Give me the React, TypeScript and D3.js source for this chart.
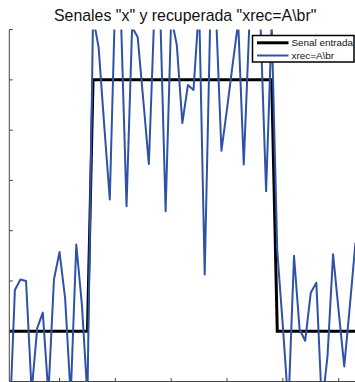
import React from "react";
import * as d3 from "d3";

const samples: number[] = Array.from({ length: 64 }, (_, i) => i + 1);

const signal: number[] = [
  0, 0, 0, 0, 0, 0, 0, 0, 0, 0, 0, 0, 0, 0, 0,
  1, 1, 1, 1, 1, 1, 1, 1, 1, 1, 1, 1, 1, 1, 1, 1, 1, 1, 1, 1, 1, 1, 1, 1, 1, 1, 1, 1, 1, 1, 1, 1, 1,
  0, 0, 0, 0, 0, 0, 0, 0, 0, 0, 0, 0, 0, 0, 0, 0,
];

const xrec: number[] = [
  -0.4, 0.164, 0.206, 0.2, -0.24, 0.012, 0.074, -0.25, 0.206, 0.315,
  0.131, -0.26, 0.345, 0.107, -0.26, 1.25, 1.13, 0.82, 0.524, 1.35,
  1.25, 0.497, 1.21, 1.17, 0.92, 0.665, 1.28, 1.3, 0.477, 1.25,
  1.14, 0.828, 0.98, 0.96, 1.3, 0.226, 1.25, 1.28, 0.718, 0.885,
  1.06, 1.23, 0.663, 1.22, 1.3, 1.22, 0.557, 1.22, 0.32, 0.02,
  -0.3, 0.3, 0.008, -0.038, 0.153, 0.193, -0.3, -0.1, 0.306, 0.08,
  -0.14, 0.1, 0.35, 0.2,
];

const xTicks: number[] = [10, 20, 30, 40, 50, 60];
const yTicks: number[] = [-0.2, 0, 0.2, 0.4, 0.6, 0.8, 1, 1.2];

const titleText = 'Senales "x" y recuperada "xrec=A\\br"';
const legendLabels: string[] = ["Senal entrada", "xrec=A\\br"];

const W = 355;
const H = 382;

export default function App() {
  const x = d3.scaleLinear().domain([1, 64]).range([9.3, 361]);
  const y = d3.scaleLinear().domain([-0.2, 1.2]).range([381.5, 29.6]);

  const line = d3
    .line<number>()
    .x((_, i) => x(samples[i]))
    .y((d) => y(d));

  const blue = "#2f52a8";
  const font = "'Liberation Sans', Arial, Helvetica, sans-serif";

  const [x0, x1] = x.range();
  const [y0, y1] = y.range();

  const lgX = 252.5;
  const lgY = 35.5;
  const lgW = 101.5;
  const lgH = 26.5;

  return (
    <svg
      width={W}
      height={H}
      style={{ position: "absolute", left: 0, top: 0, background: "#fff" }}
    >
      <defs>
        <clipPath id="plotClip">
          <rect x={x0} y={y1} width={x1 - x0} height={y0 - y1} />
        </clipPath>
      </defs>
      <rect x={0} y={0} width={W} height={H} fill="#fff" />
      <text
        x={(x0 + x1) / 2}
        y={20.5}
        textAnchor="middle"
        fontFamily={font}
        fontSize={15.9}
        fill="#111"
      >
        {titleText}
      </text>

      <g clipPath="url(#plotClip)">
        <path d={line(signal) || ""} fill="none" stroke="#000" strokeWidth={3} strokeLinejoin="miter" />
        <path d={line(xrec) || ""} fill="none" stroke={blue} strokeWidth={2} strokeLinejoin="round" />
      </g>

      {/* axes */}
      <line x1={x0} x2={x0} y1={y1} y2={y0} stroke="#444" strokeWidth={1} />
      <line x1={x0} x2={x1} y1={y0} y2={y0} stroke="#444" strokeWidth={1} />
      {yTicks.map((t) => (
        <line key={"yt" + t} x1={x0} x2={x0 + 3.5} y1={y(t)} y2={y(t)} stroke="#444" strokeWidth={1} />
      ))}
      {xTicks.map((t) => (
        <line key={"xt" + t} x1={x(t)} x2={x(t)} y1={y0} y2={y0 - 3.5} stroke="#444" strokeWidth={1} />
      ))}

      {/* legend */}
      <rect x={lgX} y={lgY} width={lgW} height={lgH} fill="#fff" stroke="#000" strokeWidth={1.5} />
      <line x1={257} x2={288.5} y1={42.8} y2={42.8} stroke="#000" strokeWidth={3} />
      <line x1={257} x2={288.5} y1={55.5} y2={55.5} stroke={blue} strokeWidth={2} />
      <text x={291.5} y={46.3} fontFamily={font} fontSize={9.9} fill="#111">
        {legendLabels[0]}
      </text>
      <text x={291.5} y={59} fontFamily={font} fontSize={9.9} fill="#111">
        {legendLabels[1]}
      </text>
    </svg>
  );
}
